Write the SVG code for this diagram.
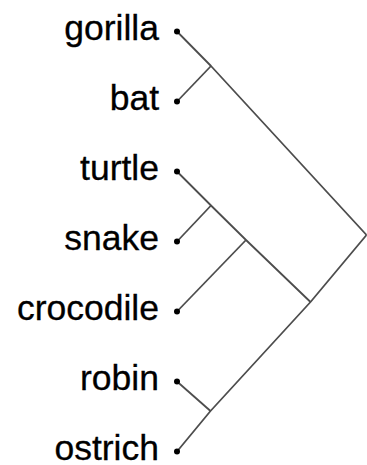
<svg xmlns="http://www.w3.org/2000/svg" width="367" height="465" viewBox="0 0 367 465">
  <style>
    .label { font-family: "Liberation Sans", Arial, Helvetica, sans-serif; font-size: 35.5px; fill: #000; text-anchor: end; stroke: #000; stroke-width: 0.3; }
    .dot { fill: #000; }
    .edge { fill: none; stroke: #4d4d4d; stroke-width: 1.8; stroke-linejoin: round; }
  </style>
  <rect width="367" height="465" fill="#fff"/>

  <!-- tree edges -->
  <g id="connectors">
    <polyline class="edge" points="177,31.5 211,66 366.5,235"/>
    <polyline class="edge" points="177,101.5 211,66"/>
    <polyline class="edge" points="177,171.5 211,205.5 246,240 310.5,302"/>
    <polyline class="edge" points="177,241.5 211,205.5"/>
    <polyline class="edge" points="177,311.5 246,240"/>
    <polyline class="edge" points="177,381.5 210.5,411"/>
    <polyline class="edge" points="177,451.5 210.5,411 310.5,302 366.5,235"/>
  </g>

  <!-- leaves -->
  <g id="gorilla"><text class="label" x="159" y="40">gorilla</text><circle class="dot" cx="177" cy="31.5" r="3"/></g>
  <g id="bat"><text class="label" x="159" y="110">bat</text><circle class="dot" cx="177" cy="101.5" r="3"/></g>
  <g id="turtle"><text class="label" x="159" y="180">turtle</text><circle class="dot" cx="177" cy="171.5" r="3"/></g>
  <g id="snake"><text class="label" x="159" y="250">snake</text><circle class="dot" cx="177" cy="241.5" r="3"/></g>
  <g id="crocodile"><text class="label" x="159" y="320">crocodile</text><circle class="dot" cx="177" cy="311.5" r="3"/></g>
  <g id="robin"><text class="label" x="159" y="390">robin</text><circle class="dot" cx="177" cy="381.5" r="3"/></g>
  <g id="ostrich"><text class="label" x="159" y="460">ostrich</text><circle class="dot" cx="177" cy="451.5" r="3"/></g>
</svg>
